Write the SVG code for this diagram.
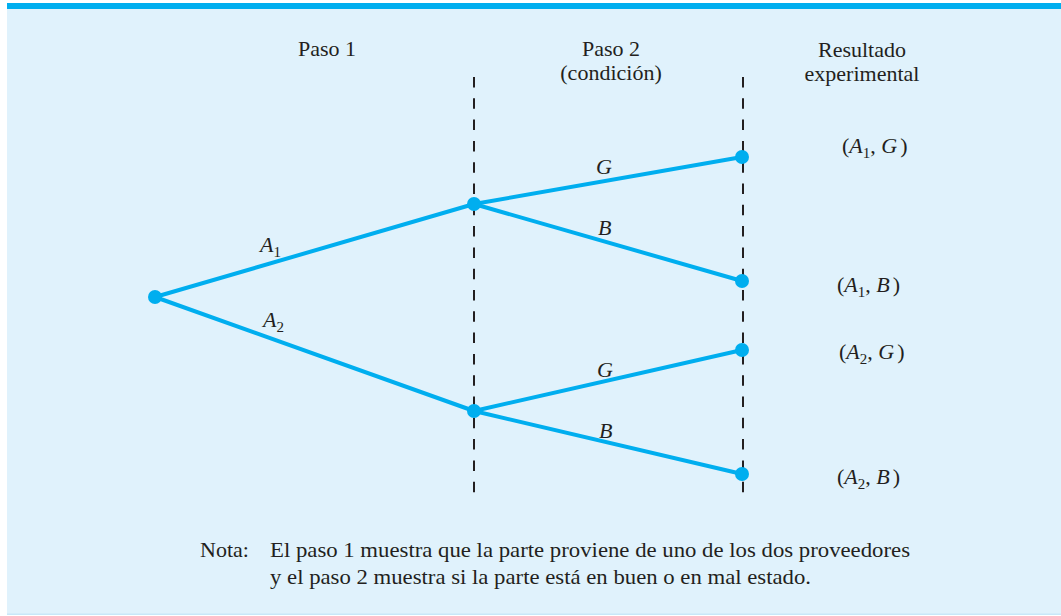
<svg xmlns="http://www.w3.org/2000/svg" width="1061" height="616" viewBox="0 0 1061 616" font-family="Liberation Serif, Times New Roman, serif">
<style>
text{font-size:22px;fill:#231F20}
.c{text-anchor:middle}
.i{font-style:italic}
.sub{font-size:15px}
.edge{stroke:#00AEEF;stroke-width:4;fill:none;stroke-linecap:round}
.dash{stroke:#231F20;stroke-width:2;stroke-dasharray:10.5 10.8;fill:none}
.dot{fill:#00AEEF}
</style>
<rect x="0" y="0" width="1061" height="616" fill="#FFFFFF"/>
<rect x="7" y="9" width="1054" height="606" fill="#E0F2FC"/>
<rect x="7" y="613.5" width="1054" height="1.5" fill="#C8E7F8"/>
<rect x="7" y="3" width="1054" height="6" fill="#00AEEF"/>

<g id="headers">
<text class="c" x="327" y="56">Paso 1</text>
<text class="c" x="611" y="56">Paso 2</text>
<text class="c" x="611" y="80">(condición)</text>
<text class="c" x="862" y="57">Resultado</text>
<text class="c" x="862" y="81">experimental</text>
</g>

<g id="guides">
<line class="dash" x1="474" y1="77" x2="474" y2="495"/>
<line class="dash" x1="743" y1="77" x2="743" y2="495"/>
</g>

<g id="connectors">
<line class="edge" x1="155" y1="297" x2="474" y2="204"/>
<line class="edge" x1="155" y1="297" x2="474" y2="411"/>
<line class="edge" x1="474" y1="204" x2="742" y2="157"/>
<line class="edge" x1="474" y1="204" x2="742" y2="281"/>
<line class="edge" x1="474" y1="411" x2="742" y2="350"/>
<line class="edge" x1="474" y1="411" x2="742" y2="474"/>
<text x="260" y="252"><tspan class="i">A</tspan><tspan class="sub" dy="5">1</tspan></text>
<text x="263" y="327"><tspan class="i">A</tspan><tspan class="sub" dy="5">2</tspan></text>
<text class="i" x="596" y="174">G</text>
<text class="i" x="598" y="235">B</text>
<text class="i" x="597" y="377">G</text>
<text class="i" x="599" y="438">B</text>
</g>

<g id="root"><circle class="dot" cx="155" cy="297" r="7"/></g>
<g id="a1"><circle class="dot" cx="474" cy="204" r="7"/></g>
<g id="a2"><circle class="dot" cx="474" cy="411" r="7"/></g>
<g id="a1g"><circle class="dot" cx="742" cy="157" r="7"/>
<text x="842" y="153">(<tspan class="i">A</tspan><tspan class="sub" dy="5">1</tspan><tspan dy="-5">, </tspan><tspan class="i">G</tspan><tspan dx="3">)</tspan></text></g>
<g id="a1b"><circle class="dot" cx="742" cy="281" r="7"/>
<text x="837" y="292">(<tspan class="i">A</tspan><tspan class="sub" dy="5">1</tspan><tspan dy="-5">, </tspan><tspan class="i">B</tspan><tspan dx="3">)</tspan></text></g>
<g id="a2g"><circle class="dot" cx="742" cy="350" r="7"/>
<text x="839" y="359">(<tspan class="i">A</tspan><tspan class="sub" dy="5">2</tspan><tspan dy="-5">, </tspan><tspan class="i">G</tspan><tspan dx="3">)</tspan></text></g>
<g id="a2b"><circle class="dot" cx="742" cy="474" r="7"/>
<text x="837" y="484">(<tspan class="i">A</tspan><tspan class="sub" dy="5">2</tspan><tspan dy="-5">, </tspan><tspan class="i">B</tspan><tspan dx="3">)</tspan></text></g>

<g id="note">
<text x="200" y="557">Nota:</text>
<text x="270" y="557" textLength="640" lengthAdjust="spacingAndGlyphs">El paso 1 muestra que la parte proviene de uno de los dos proveedores</text>
<text x="270" y="584" textLength="541" lengthAdjust="spacingAndGlyphs">y el paso 2 muestra si la parte está en buen o en mal estado.</text>
</g>
</svg>
